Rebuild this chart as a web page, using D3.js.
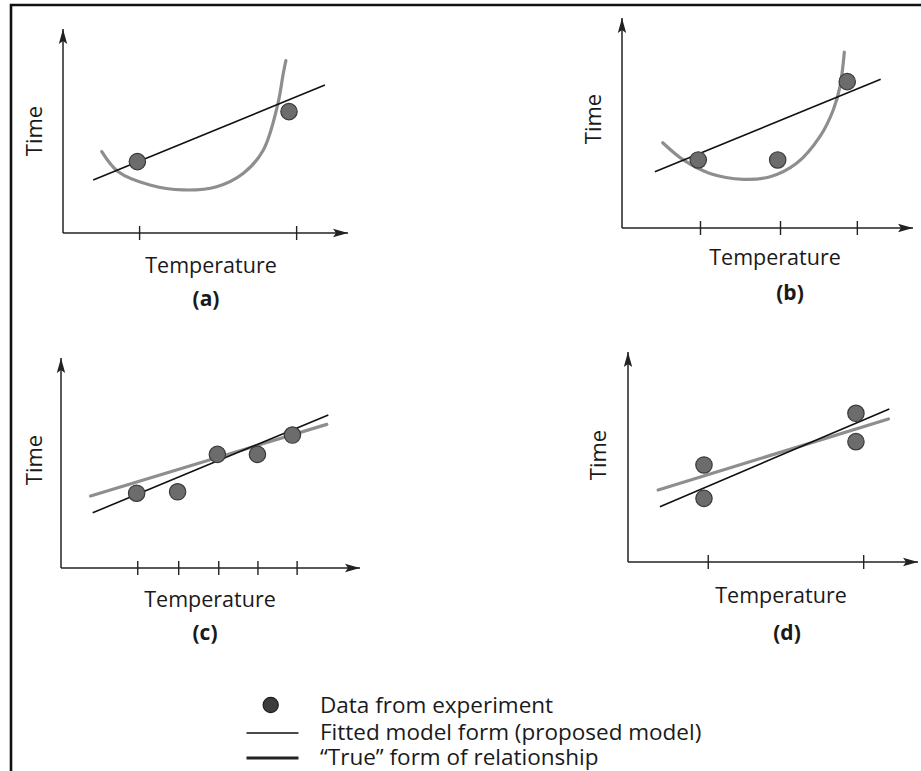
<!DOCTYPE html>
<html>
<head>
<meta charset="utf-8">
<script src="https://cdn.jsdelivr.net/npm/d3@7"></script>
<style>
  body { margin: 0; background: #fff; }
  svg { display: block; }
  text { font-family: "Open Sans", "Noto Sans", sans-serif; fill: #1a1a1a; }
</style>
</head>
<body>
<svg id="chart" width="921" height="771"></svg>
<script>
// Values are in axis units: 0–100 along Temperature, 0–100 along Time.

// (a) two observations, straight-line fit, curved true relationship
const ticksA = [26.7, 81.8];
const dataA = [[26.1, 35.0], [79.3, 59.5]];
const fittedA = [[10.6, 26.0], [91.9, 72.5]];
const trueA = [[13.6, 39.9], [19.4, 30.0], [30.5, 23.5], [42.2, 21.1], [53.9, 22.7],
               [63.3, 29.3], [70.3, 40.7], [75.3, 62.7], [77.3, 78.3], [78.2, 84.5]];

// (b) three observations, same curved relationship
const ticksB = [26.8, 54.3, 80.7];
const dataB = [[26.2, 32.4], [53.5, 32.4], [77.4, 69.7]];
const fittedB = [[11.3, 26.8], [88.9, 70.8]];
const trueB = [[14.0, 40.6], [21.1, 32.4], [30.2, 26.0], [41.7, 23.2], [50.9, 24.4],
               [60.0, 30.8], [68.0, 43.5], [72.6, 56.2], [74.9, 67.3], [76.4, 83.7]];

// (c) five equally spaced observations, linear true relationship
const ticksC = [25.5, 39.2, 52.6, 65.7, 78.8];
const dataC = [[25.3, 35.6], [39.0, 36.3], [52.3, 54.1], [65.7, 54.1], [77.4, 63.3]];
const fittedC = [[10.6, 26.3], [89.4, 72.9]];
const trueC = [[9.9, 34.3], [88.9, 68.4]];

// (d) replicated observations at two temperatures
const ticksD = [27.5, 81.1];
const dataD = [[26.2, 46.2], [26.2, 30.3], [78.6, 70.8], [78.6, 57.3]];
const fittedD = [[11.0, 26.3], [90.1, 72.9]];
const trueD = [[10.4, 34.3], [89.8, 68.1]];

const panelNames = ["(a)", "(b)", "(c)", "(d)"];
const axisX = "Temperature";
const axisY = "Time";
const legendLabels = ["Data from experiment", "Fitted model form (proposed model)", "\u201CTrue\u201D form of relationship"];

const panels = [
  { name: panelNames[0], ticks: ticksA, pts: dataA, fit: fittedA, truth: trueA, curved: true },
  { name: panelNames[1], ticks: ticksB, pts: dataB, fit: fittedB, truth: trueB, curved: true },
  { name: panelNames[2], ticks: ticksC, pts: dataC, fit: fittedC, truth: trueC, curved: false },
  { name: panelNames[3], ticks: ticksD, pts: dataD, fit: fittedD, truth: trueD, curved: false }
];

// Pixel frame of each small plot: axis corner, arrow tips and label anchors
const frames = [
  { left: 63,  bottom: 233, right: 348, top: 29,  timeX: 42,  timeY: 131, tempX: 211, tempY: 273, capX: 206, capY: 306 },
  { left: 622, bottom: 228, right: 913, top: 18,  timeX: 601, timeY: 119, tempX: 775, tempY: 265, capX: 790, capY: 300 },
  { left: 61,  bottom: 568, right: 360, top: 358, timeX: 41.5, timeY: 460, tempX: 210, tempY: 607, capX: 205, capY: 640 },
  { left: 628, bottom: 562, right: 918, top: 352, timeX: 606, timeY: 455, tempX: 781, tempY: 603, capX: 787, capY: 640 }
];

const svg = d3.select("#chart");

svg.append("defs").append("marker")
  .attr("id", "arrow")
  .attr("viewBox", "0 -5 16 10")
  .attr("refX", 15).attr("refY", 0)
  .attr("markerUnits", "userSpaceOnUse")
  .attr("markerWidth", 16).attr("markerHeight", 10)
  .attr("orient", "auto")
  .append("path")
  .attr("d", "M0,-4.2L15,0L0,4.2L3,0Z")
  .attr("fill", "#222");

// Page frame (top and left rules)
svg.append("path")
  .attr("d", "M11,771L11,5L921,5")
  .attr("fill", "none")
  .attr("stroke", "#111")
  .attr("stroke-width", 2.6);

panels.forEach((p, i) => {
  const f = frames[i];
  const x = d3.scaleLinear().domain([0, 100]).range([f.left, f.right]);
  const y = d3.scaleLinear().domain([0, 100]).range([f.bottom, f.top]);
  const g = svg.append("g");

  // Temperature axis ticks crossing the axis line
  const xAxis = d3.axisBottom(x).tickValues(p.ticks).tickFormat("").tickSizeOuter(0).tickSizeInner(7);
  const ax = g.append("g").attr("transform", `translate(0,${f.bottom})`).call(xAxis);
  ax.select(".domain").remove();
  ax.selectAll(".tick line").attr("y1", -7).attr("y2", 7).attr("stroke", "#222").attr("stroke-width", 1.4);

  // Axis lines with arrowheads
  g.append("line")
    .attr("x1", x(0)).attr("y1", y(0)).attr("x2", x(100)).attr("y2", y(0))
    .attr("stroke", "#222").attr("stroke-width", 1.5).attr("marker-end", "url(#arrow)");
  g.append("line")
    .attr("x1", x(0)).attr("y1", y(0)).attr("x2", x(0)).attr("y2", y(100))
    .attr("stroke", "#222").attr("stroke-width", 1.5).attr("marker-end", "url(#arrow)");

  const line = d3.line().x(d => x(d[0])).y(d => y(d[1]));
  const curve = d3.line().x(d => x(d[0])).y(d => y(d[1])).curve(d3.curveCatmullRom.alpha(0.5));

  // True relationship (grey, heavier)
  g.append("path")
    .attr("d", (p.curved ? curve : line)(p.truth))
    .attr("fill", "none")
    .attr("stroke", "#8e8e8e")
    .attr("stroke-width", 3.2)
    .attr("stroke-linecap", "round");

  // Fitted model (thin black)
  g.append("path")
    .attr("d", line(p.fit))
    .attr("fill", "none")
    .attr("stroke", "#111")
    .attr("stroke-width", 1.6);

  // Experimental observations
  g.selectAll("circle.obs").data(p.pts).join("circle")
    .attr("class", "obs")
    .attr("cx", d => x(d[0])).attr("cy", d => y(d[1]))
    .attr("r", 8.2)
    .attr("fill", "#6c6c6c")
    .attr("stroke", "#3a3a3a")
    .attr("stroke-width", 1.2);

  g.append("text")
    .attr("transform", `translate(${f.timeX},${f.timeY}) rotate(-90)`)
    .attr("text-anchor", "middle")
    .attr("font-size", 22)
    .text(axisY);

  g.append("text")
    .attr("x", f.tempX).attr("y", f.tempY)
    .attr("text-anchor", "middle")
    .attr("font-size", 21.5)
    .text(axisX);

  g.append("text")
    .attr("x", f.capX).attr("y", f.capY)
    .attr("text-anchor", "middle")
    .attr("font-size", 21)
    .attr("font-weight", 700)
    .text(p.name);
});

// Legend
const lg = svg.append("g");
const legendRows = [705, 733, 758];
const textBase = [713, 740, 765];

lg.append("circle")
  .attr("cx", 270.7).attr("cy", legendRows[0]).attr("r", 7.6)
  .attr("fill", "#3c3c3c").attr("stroke", "#1e1e1e").attr("stroke-width", 1.2);
lg.append("line")
  .attr("x1", 246.5).attr("x2", 298.5).attr("y1", legendRows[1]).attr("y2", legendRows[1])
  .attr("stroke", "#111").attr("stroke-width", 1.6);
lg.append("line")
  .attr("x1", 246.5).attr("x2", 298.5).attr("y1", legendRows[2]).attr("y2", legendRows[2])
  .attr("stroke", "#222").attr("stroke-width", 3.2);

lg.selectAll("text").data(legendLabels).join("text")
  .attr("x", 320).attr("y", (d, i) => textBase[i])
  .attr("font-size", 22.5)
  .text(d => d);
</script>
</body>
</html>
